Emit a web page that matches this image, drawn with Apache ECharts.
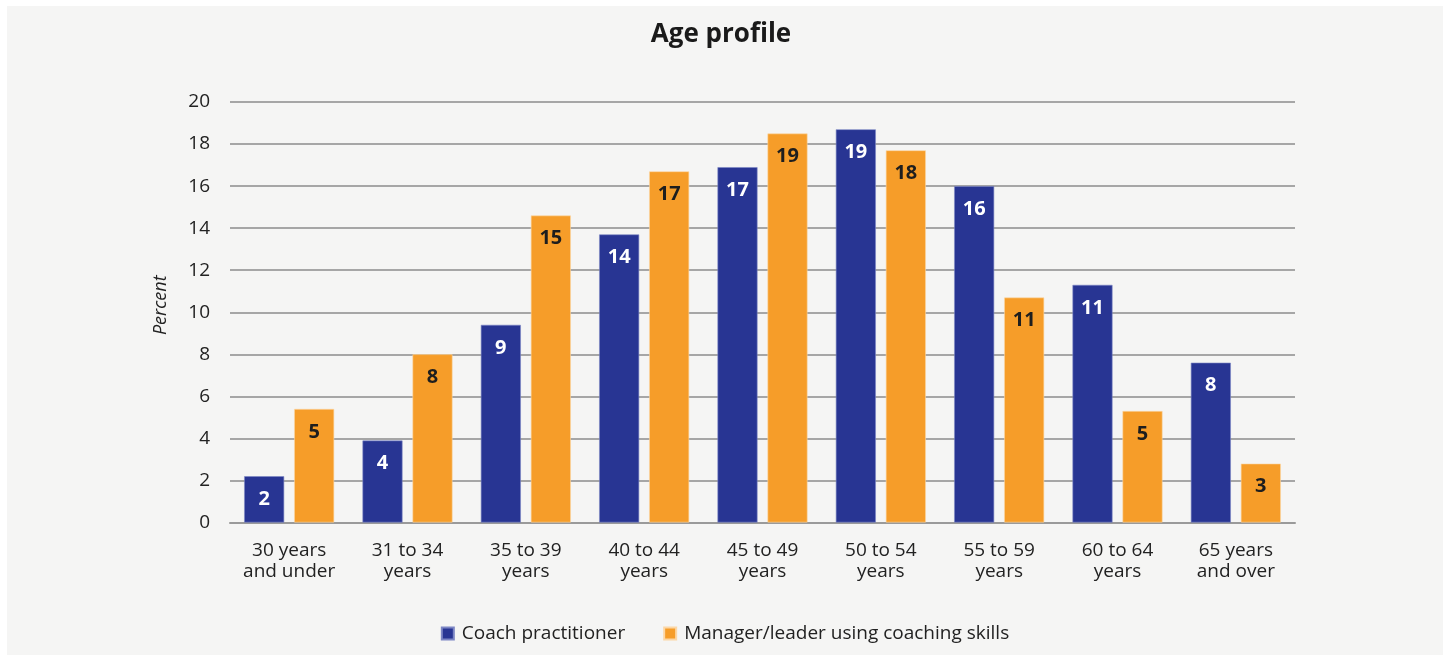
<!DOCTYPE html>
<html>
<head>
<meta charset="utf-8">
<script src="https://cdn.jsdelivr.net/npm/echarts@6/dist/echarts.min.js"></script>
<style>
html,body{margin:0;padding:0;background:#ffffff;}
#panel{position:absolute;left:7px;top:6px;width:1436px;height:649px;background:#f5f5f4;}
#chart{position:absolute;left:0;top:0;width:1450px;height:660px;}
</style>
</head>
<body>
<div id="panel"></div>
<div id="chart"></div>
<script>
const categories = ['30 years\nand under','31 to 34\nyears','35 to 39\nyears','40 to 44\nyears','45 to 49\nyears','50 to 54\nyears','55 to 59\nyears','60 to 64\nyears','65 years\nand over'];
const coachValues = [2.2, 3.9, 9.4, 13.7, 16.9, 18.7, 16.0, 11.3, 7.6];
const managerValues = [5.4, 8.0, 14.6, 16.7, 18.5, 17.7, 10.7, 5.3, 2.8];
const seriesNames = ['Coach practitioner','Manager/leader using coaching skills'];
const yTicks = {min:0, max:20, interval:2};

const font = '"Open Sans", "Noto Sans", sans-serif';
const chart = echarts.init(document.getElementById('chart'), null, {renderer:'canvas'});
chart.setOption({
  backgroundColor: 'transparent',
  textStyle: {fontFamily: font},
  title: {
    text: 'Age profile', left: 716, top: 17, textAlign: 'center',
    textStyle: {fontFamily: font, fontSize: 26, fontWeight: 'bold', color: '#1a1a1a'}
  },
  legend: {
    bottom: 12, left: 'center', itemWidth: 12, itemHeight: 12, itemGap: 38,
    icon: 'rect',
    textStyle: {fontFamily: font, fontSize: 19, color: '#222', padding: [0, 0, 0, 3]},
    data: seriesNames
  },
  grid: {left: 230, right: 155, top: 102, bottom: 137.5},
  xAxis: {
    type: 'category', data: categories,
    axisTick: {show: false},
    axisLine: {lineStyle: {color: '#9a9a9a', width: 2}},
    axisLabel: {fontFamily: font, fontSize: 19, color: '#222', margin: 18, lineHeight: 21, interval: 0}
  },
  yAxis: {
    type: 'value', min: yTicks.min, max: yTicks.max, interval: yTicks.interval,
    name: 'Percent', nameLocation: 'middle', nameGap: 60,
    nameTextStyle: {fontFamily: font, fontSize: 18, fontStyle: 'italic', color: '#222', padding: [0, 0, 0, 14]},
    axisLine: {show: false}, axisTick: {show: false},
    axisLabel: {fontFamily: font, fontSize: 19, color: '#222', margin: 20},
    splitLine: {lineStyle: {color: '#a6a6a6', width: 2}}
  },
  series: [
    {
      name: seriesNames[0], type: 'bar', data: coachValues,
      barWidth: 40, barGap: '25%',
      itemStyle: {color: '#283593', borderColor: '#7c86c4', borderWidth: 0.6},
      label: {show: true, position: 'insideTop', distance: 13, color: '#ffffff',
        fontFamily: font, fontSize: 20, fontWeight: 'bold',
        formatter: p => Math.round(p.value)}
    },
    {
      name: seriesNames[1], type: 'bar', data: managerValues,
      barWidth: 40,
      itemStyle: {color: '#f69d29', borderColor: '#fcd7a6', borderWidth: 0.6},
      label: {show: true, position: 'insideTop', distance: 13, color: '#1e1e1e',
        fontFamily: font, fontSize: 20, fontWeight: 'bold',
        formatter: p => Math.round(p.value)}
    }
  ]
});
</script>
</body>
</html>
